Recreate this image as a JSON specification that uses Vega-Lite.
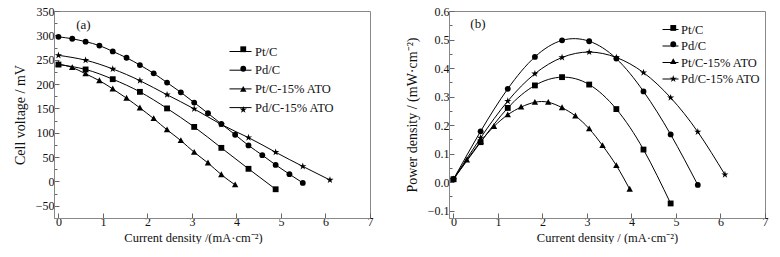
{
  "$schema": "https://vega.github.io/schema/vega-lite/v6.json",
  "background": "white",
  "padding": {"left": 12, "top": 4, "right": 0, "bottom": 0},
  "bounds": "flush",
  "spacing": 79,
  "resolve": {"scale": {"shape": "independent", "color": "independent"}, "legend": {"shape": "independent", "color": "independent"}},
  "config": {
    "view": {"stroke": "#888", "strokeWidth": 1},
    "font": "Liberation Serif",
    "axis": {"grid": false, "domainColor": "#888", "tickColor": "#666", "labelFont": "Liberation Serif", "labelFontSize": 12, "labelColor": "#111", "titleFont": "Liberation Serif", "titleFontSize": 14, "titleFontWeight": "normal", "titleColor": "#111", "labelFlush": false},
    "legend": {"labelFont": "Liberation Serif", "labelFontSize": 12.5, "labelColor": "#111", "padding": 0, "title": null, "orient": "none"}
  },
  "datasets": {
    "voltage": [
      {"series": "Pt/C", "j": 0, "v": 240}, {"series": "Pt/C", "j": 0.61, "v": 230}, {"series": "Pt/C", "j": 1.22, "v": 210}, {"series": "Pt/C", "j": 1.83, "v": 184}, {"series": "Pt/C", "j": 2.44, "v": 150}, {"series": "Pt/C", "j": 3.05, "v": 112}, {"series": "Pt/C", "j": 3.66, "v": 69}, {"series": "Pt/C", "j": 4.27, "v": 26}, {"series": "Pt/C", "j": 4.88, "v": -16},
      {"series": "Pd/C", "j": 0, "v": 297}, {"series": "Pd/C", "j": 0.31, "v": 293}, {"series": "Pd/C", "j": 0.61, "v": 287}, {"series": "Pd/C", "j": 0.92, "v": 279}, {"series": "Pd/C", "j": 1.22, "v": 267}, {"series": "Pd/C", "j": 1.53, "v": 254}, {"series": "Pd/C", "j": 1.83, "v": 239}, {"series": "Pd/C", "j": 2.14, "v": 222}, {"series": "Pd/C", "j": 2.44, "v": 203}, {"series": "Pd/C", "j": 2.75, "v": 183}, {"series": "Pd/C", "j": 3.05, "v": 162}, {"series": "Pd/C", "j": 3.36, "v": 140}, {"series": "Pd/C", "j": 3.66, "v": 118}, {"series": "Pd/C", "j": 3.97, "v": 96}, {"series": "Pd/C", "j": 4.27, "v": 74}, {"series": "Pd/C", "j": 4.58, "v": 54}, {"series": "Pd/C", "j": 4.88, "v": 34}, {"series": "Pd/C", "j": 5.19, "v": 15}, {"series": "Pd/C", "j": 5.49, "v": -3},
      {"series": "Pt/C-15% ATO", "j": 0, "v": 241}, {"series": "Pt/C-15% ATO", "j": 0.31, "v": 234}, {"series": "Pt/C-15% ATO", "j": 0.61, "v": 221}, {"series": "Pt/C-15% ATO", "j": 0.92, "v": 207}, {"series": "Pt/C-15% ATO", "j": 1.22, "v": 190}, {"series": "Pt/C-15% ATO", "j": 1.53, "v": 171}, {"series": "Pt/C-15% ATO", "j": 1.83, "v": 151}, {"series": "Pt/C-15% ATO", "j": 2.14, "v": 129}, {"series": "Pt/C-15% ATO", "j": 2.44, "v": 106}, {"series": "Pt/C-15% ATO", "j": 2.75, "v": 84}, {"series": "Pt/C-15% ATO", "j": 3.05, "v": 60}, {"series": "Pt/C-15% ATO", "j": 3.36, "v": 38}, {"series": "Pt/C-15% ATO", "j": 3.66, "v": 14}, {"series": "Pt/C-15% ATO", "j": 3.97, "v": -7},
      {"series": "Pd/C-15% ATO", "j": 0, "v": 259}, {"series": "Pd/C-15% ATO", "j": 0.61, "v": 249}, {"series": "Pd/C-15% ATO", "j": 1.22, "v": 231}, {"series": "Pd/C-15% ATO", "j": 1.83, "v": 207}, {"series": "Pd/C-15% ATO", "j": 2.44, "v": 178}, {"series": "Pd/C-15% ATO", "j": 3.05, "v": 149}, {"series": "Pd/C-15% ATO", "j": 3.66, "v": 117}, {"series": "Pd/C-15% ATO", "j": 4.27, "v": 90}, {"series": "Pd/C-15% ATO", "j": 4.88, "v": 60}, {"series": "Pd/C-15% ATO", "j": 5.49, "v": 31}, {"series": "Pd/C-15% ATO", "j": 6.1, "v": 3}
    ],
    "power": [
      {"series": "Pt/C", "j": 0, "p": 0.01}, {"series": "Pt/C", "j": 0.61, "p": 0.14}, {"series": "Pt/C", "j": 1.22, "p": 0.26}, {"series": "Pt/C", "j": 1.83, "p": 0.339}, {"series": "Pt/C", "j": 2.44, "p": 0.368}, {"series": "Pt/C", "j": 3.05, "p": 0.342}, {"series": "Pt/C", "j": 3.66, "p": 0.256}, {"series": "Pt/C", "j": 4.27, "p": 0.114}, {"series": "Pt/C", "j": 4.88, "p": -0.075},
      {"series": "Pd/C", "j": 0, "p": 0.01}, {"series": "Pd/C", "j": 0.61, "p": 0.178}, {"series": "Pd/C", "j": 1.22, "p": 0.327}, {"series": "Pd/C", "j": 1.83, "p": 0.439}, {"series": "Pd/C", "j": 2.44, "p": 0.497}, {"series": "Pd/C", "j": 3.05, "p": 0.494}, {"series": "Pd/C", "j": 3.66, "p": 0.433}, {"series": "Pd/C", "j": 4.27, "p": 0.318}, {"series": "Pd/C", "j": 4.88, "p": 0.167}, {"series": "Pd/C", "j": 5.49, "p": -0.01},
      {"series": "Pt/C-15% ATO", "j": 0, "p": 0.01}, {"series": "Pt/C-15% ATO", "j": 0.3, "p": 0.077}, {"series": "Pt/C-15% ATO", "j": 0.61, "p": 0.142}, {"series": "Pt/C-15% ATO", "j": 0.91, "p": 0.195}, {"series": "Pt/C-15% ATO", "j": 1.22, "p": 0.236}, {"series": "Pt/C-15% ATO", "j": 1.52, "p": 0.263}, {"series": "Pt/C-15% ATO", "j": 1.83, "p": 0.28}, {"series": "Pt/C-15% ATO", "j": 2.13, "p": 0.28}, {"series": "Pt/C-15% ATO", "j": 2.44, "p": 0.261}, {"series": "Pt/C-15% ATO", "j": 2.74, "p": 0.232}, {"series": "Pt/C-15% ATO", "j": 3.05, "p": 0.187}, {"series": "Pt/C-15% ATO", "j": 3.35, "p": 0.128}, {"series": "Pt/C-15% ATO", "j": 3.66, "p": 0.058}, {"series": "Pt/C-15% ATO", "j": 3.96, "p": -0.025},
      {"series": "Pd/C-15% ATO", "j": 0, "p": 0.01}, {"series": "Pd/C-15% ATO", "j": 0.61, "p": 0.155}, {"series": "Pd/C-15% ATO", "j": 1.22, "p": 0.284}, {"series": "Pd/C-15% ATO", "j": 1.83, "p": 0.38}, {"series": "Pd/C-15% ATO", "j": 2.44, "p": 0.437}, {"series": "Pd/C-15% ATO", "j": 3.05, "p": 0.456}, {"series": "Pd/C-15% ATO", "j": 3.66, "p": 0.437}, {"series": "Pd/C-15% ATO", "j": 4.27, "p": 0.384}, {"series": "Pd/C-15% ATO", "j": 4.88, "p": 0.296}, {"series": "Pd/C-15% ATO", "j": 5.49, "p": 0.176}, {"series": "Pd/C-15% ATO", "j": 6.1, "p": 0.026}
    ]
  },
  "hconcat": [
    {
      "width": 316,
      "height": 207,
      "encoding": {
        "x": {"field": "j", "type": "quantitative", "scale": {"domain": [-0.1, 7], "nice": false, "zero": false},
          "axis": {"values": [0, 0.5, 1, 1.5, 2, 2.5, 3, 3.5, 4, 4.5, 5, 5.5, 6, 6.5, 7], "format": "d", "labelOverlap": {"expr": "false"}, "labelExpr": "datum.value % 1 === 0 ? datum.label : ''", "tickSize": {"condition": {"test": "datum.value % 1 !== 0", "value": -3}, "value": -5}, "labelPadding": 3, "title": "Current density /(mA·cm⁻²)", "titleFontSize": 12.5, "titleX": 139, "titlePadding": 4}},
        "y": {"field": "v", "type": "quantitative", "scale": {"domain": [-75, 350], "nice": false, "zero": false},
          "axis": {"values": [-50, -25, 0, 25, 50, 75, 100, 125, 150, 175, 200, 225, 250, 275, 300, 325, 350], "format": "d", "labelOverlap": {"expr": "false"}, "labelExpr": "datum.value % 50 === 0 ? datum.label : ''", "tickSize": {"condition": {"test": "datum.value % 50 !== 0", "value": -3}, "value": -5}, "labelPadding": 5, "title": "Cell voltage / mV", "titlePadding": 8}}
      },
      "layer": [
        {
          "data": {"name": "voltage"},
          "mark": {"type": "line", "interpolate": "natural", "strokeWidth": 1},
          "encoding": {
            "color": {"field": "series", "type": "nominal", "sort": ["Pt/C", "Pd/C", "Pt/C-15% ATO", "Pd/C-15% ATO"], "scale": {"range": ["black", "black", "black", "black"]},
              "legend": {"legendX": 175, "legendY": 29, "symbolType": "stroke", "symbolSize": 484, "symbolStrokeWidth": 1, "labelOffset": 3, "rowPadding": 0.7}}
          }
        },
        {
          "data": {"name": "voltage"},
          "mark": {"type": "point", "filled": true, "color": "black", "opacity": 1, "size": 34},
          "encoding": {
            "shape": {"field": "series", "type": "nominal",
              "scale": {"domain": ["Pt/C", "Pd/C", "Pt/C-15% ATO", "Pd/C-15% ATO"], "range": ["square", "circle", "M0,-1.15L1.1,0.85L-1.1,0.85Z", "M0,-1.3L0.2904,-0.3996L1.2364,-0.4017L0.4698,0.1526L0.7641,1.0517L0,0.494L-0.7641,1.0517L-0.4698,0.1526L-1.2364,-0.4017L-0.2904,-0.3996Z"]},
              "legend": {"legendX": 183, "legendY": 32, "symbolSize": 34, "symbolFillColor": "black", "symbolStrokeColor": "black", "labelExpr": "''", "labelOffset": 3, "rowPadding": 6.5}
            }
          }
        },
        {
          "data": {"values": [{"label": "(a)", "j": 0.56, "v": 322}]},
          "mark": {"type": "text", "font": "Liberation Serif", "fontSize": 13, "color": "#111"},
          "encoding": {"text": {"field": "label"}}
        }
      ]
    },
    {
      "width": 316,
      "height": 207,
      "encoding": {
        "x": {"field": "j", "type": "quantitative", "scale": {"domain": [-0.1, 7], "nice": false, "zero": false},
          "axis": {"values": [0, 0.5, 1, 1.5, 2, 2.5, 3, 3.5, 4, 4.5, 5, 5.5, 6, 6.5, 7], "format": "d", "labelOverlap": {"expr": "false"}, "labelExpr": "datum.value % 1 === 0 ? datum.label : ''", "tickSize": {"condition": {"test": "datum.value % 1 !== 0", "value": -3}, "value": -5}, "labelPadding": 3, "title": "Current density / (mA·cm⁻²)", "titleFontSize": 12.5, "titlePadding": 4}},
        "y": {"field": "p", "type": "quantitative", "scale": {"domain": [-0.126, 0.6], "nice": false, "zero": false},
          "axis": {"values": [-0.1, -0.05, 0, 0.05, 0.1, 0.15, 0.2, 0.25, 0.3, 0.35, 0.4, 0.45, 0.5, 0.55, 0.6], "labelOverlap": {"expr": "false"}, "format": ".1f", "labelExpr": "abs(datum.value * 10 - round(datum.value * 10)) < 0.001 ? datum.label : ''", "tickSize": {"condition": {"test": "abs(datum.value * 10 - round(datum.value * 10)) > 0.001", "value": -3}, "value": -5}, "labelPadding": 5, "title": "Power density / (mW·cm⁻²)", "titlePadding": 8}}
      },
      "layer": [
        {
          "data": {"name": "power"},
          "mark": {"type": "line", "interpolate": "natural", "strokeWidth": 1},
          "encoding": {
            "color": {"field": "series", "type": "nominal", "sort": ["Pt/C", "Pd/C", "Pt/C-15% ATO", "Pd/C-15% ATO"], "scale": {"range": ["black", "black", "black", "black"]},
              "legend": {"legendX": 213, "legendY": 10, "symbolType": "stroke", "symbolSize": 256, "symbolStrokeWidth": 1, "labelOffset": 2, "rowPadding": 1.5}}
          }
        },
        {
          "data": {"name": "power"},
          "mark": {"type": "point", "filled": true, "color": "black", "opacity": 1, "size": 34},
          "encoding": {
            "shape": {"field": "series", "type": "nominal",
              "scale": {"domain": ["Pt/C", "Pd/C", "Pt/C-15% ATO", "Pd/C-15% ATO"], "range": ["square", "circle", "M0,-1.15L1.1,0.85L-1.1,0.85Z", "M0,-1.3L0.2904,-0.3996L1.2364,-0.4017L0.4698,0.1526L0.7641,1.0517L0,0.494L-0.7641,1.0517L-0.4698,0.1526L-1.2364,-0.4017L-0.2904,-0.3996Z"]},
              "legend": {"legendX": 218, "legendY": 10.7, "symbolSize": 34, "symbolFillColor": "black", "symbolStrokeColor": "black", "labelExpr": "''", "labelOffset": 2, "rowPadding": 3.3}
            }
          }
        },
        {
          "data": {"values": [{"label": "(b)", "j": 0.55, "p": 0.555}]},
          "mark": {"type": "text", "font": "Liberation Serif", "fontSize": 13, "color": "#111"},
          "encoding": {"text": {"field": "label"}}
        }
      ]
    }
  ]
}
